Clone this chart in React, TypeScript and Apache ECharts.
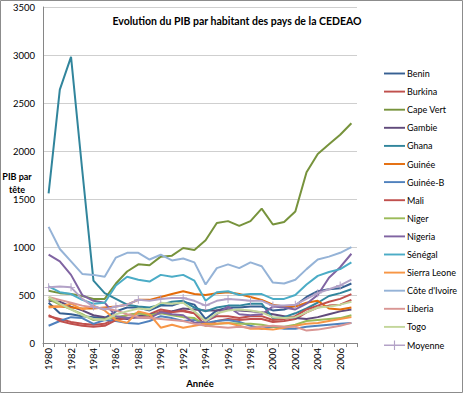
import React, { useEffect, useRef } from "react";
import * as echarts from "echarts";

const years = ["1980","1981","1982","1983","1984","1985","1986","1987","1988","1989","1990","1991","1992","1993","1994","1995","1996","1997","1998","1999","2000","2001","2002","2003","2004","2005","2006","2007"];

const benin = [420,310,300,280,270,260,330,370,370,340,390,390,430,400,250,340,370,370,380,380,340,350,390,480,540,560,570,620];
const burkina = [280,250,220,200,190,200,260,290,310,300,350,330,330,310,180,230,250,240,250,250,220,230,250,320,370,390,400,450];
const capeVert = [545,520,510,490,460,460,620,745,820,810,900,910,990,970,1070,1250,1270,1220,1270,1400,1235,1260,1370,1780,1970,2070,2170,2290];
const gambie = [440,430,380,340,290,270,260,250,280,300,310,330,360,350,340,340,350,340,330,320,300,280,260,250,270,300,330,350];
const ghana = [1560,2640,2980,1800,650,520,460,400,380,370,400,430,440,370,330,370,390,390,410,410,260,270,310,360,420,490,520,560];
const guinee = [380,380,370,360,360,370,380,400,450,450,480,510,540,510,500,520,530,510,480,450,400,380,380,420,440,360,350,370];
const guineeB = [180,230,270,260,200,240,230,210,200,230,280,260,230,240,210,230,240,220,180,150,170,150,150,170,180,190,200,210];
const mali = [290,230,200,180,170,180,240,260,270,270,330,320,340,310,230,280,280,260,280,280,240,250,280,350,390,430,460,510];
const niger = [460,400,350,300,240,250,270,290,310,290,310,290,270,260,180,200,210,200,200,190,170,170,190,230,240,250,260,290];
const nigeria = [920,850,710,500,440,420,280,260,270,260,320,300,290,210,220,300,380,300,290,300,380,370,350,410,500,680,790,930];
const senegal = [590,530,510,450,410,420,600,690,660,640,710,690,710,650,440,530,540,500,510,510,460,460,500,610,700,740,770,840];
const sierraLeone = [370,380,410,350,390,340,240,210,330,300,160,190,160,180,200,200,210,180,150,150,140,160,180,200,210,230,250,270];
const coteIvoire = [1210,980,850,720,710,690,890,940,940,870,920,860,880,840,610,780,820,780,840,800,630,620,660,770,870,900,940,1000];
const liberia = [480,450,420,390,370,360,340,300,270,260,250,240,230,200,180,170,160,170,160,170,180,170,170,130,140,160,180,210];
const togo = [480,410,350,290,250,240,300,330,360,350,420,410,420,330,230,310,340,350,340,320,270,260,270,320,370,380,400,430];
const moyenne = [580,590,580,460,380,350,380,400,450,440,460,470,470,440,390,440,460,450,440,440,390,390,400,460,520,560,600,660];

const seriesNames = ["Benin","Burkina","Cape Vert","Gambie","Ghana","Guinée","Guinée-B","Mali","Niger","Nigeria","Sénégal","Sierra Leone","Côte d'Ivoire","Liberia","Togo","Moyenne"];
const seriesData = [benin,burkina,capeVert,gambie,ghana,guinee,guineeB,mali,niger,nigeria,senegal,sierraLeone,coteIvoire,liberia,togo,moyenne];
const colors = ["#376092","#C0504D","#77933C","#604A7B","#31859C","#E46C0A","#4F81BD","#C0504D","#9BBB59","#8064A2","#4BACC6","#F79646","#95B3D7","#D99694","#C3D69B","#B3A2C7"];

const yTicks = { min: 0, max: 3500, interval: 500 };

const crossSymbol = "path://M0,4.4h10v1.2h-10zM4.4,0h1.2v10h-1.2z";
const lineIcon = "path://M0,4h22v2h-22z";
const lineCrossIcon = "path://M0,4.2h22v1.6h-22zM10.4,0h1.2v10h-1.2z";

export default function App() {
  const ref = useRef<HTMLDivElement>(null);
  useEffect(() => {
    if (!ref.current) return;
    const chart = echarts.init(ref.current, undefined, { renderer: "svg" });
    const font = "Lato, 'Noto Sans', sans-serif";
    chart.setOption({
      animation: false,
      backgroundColor: "#ffffff",
      textStyle: { fontFamily: font },
      grid: { left: 43, right: 106, top: 7, bottom: 37, containLabel: false },
      title: {
        text: "Evolution du PIB par habitant des pays de la CEDEAO",
        left: 232,
        textAlign: "center",
        top: 10,
        textStyle: { fontFamily: font, fontSize: 10.5, fontWeight: "bold", color: "#000" },
      },
      legend: {
        orient: "vertical",
        left: 379,
        top: 64,
        itemWidth: 21,
        itemHeight: 10,
        itemGap: 9.1,
        data: seriesNames.map((n) => ({ name: n, icon: n === "Moyenne" ? lineCrossIcon : lineIcon })),
        textStyle: { fontFamily: font, fontSize: 9, color: "#000", padding: [0, 0, 0, -3] },
      },
      xAxis: {
        type: "category",
        data: years,
        boundaryGap: true,
        axisLine: { lineStyle: { color: "#868686", width: 1 } },
        axisTick: { show: true, interval: 0, length: 4, lineStyle: { color: "#868686" } },
        axisLabel: { interval: 1, rotate: 90, fontSize: 9.5, color: "#000", margin: 5, fontFamily: font },
        name: "Année",
        nameLocation: "middle",
        nameGap: 33,
        nameTextStyle: { fontFamily: font, fontSize: 9.5, fontWeight: "bold", color: "#000" },
      },
      yAxis: {
        type: "value",
        min: yTicks.min,
        max: yTicks.max,
        interval: yTicks.interval,
        axisLine: { show: true, lineStyle: { color: "#868686", width: 1 } },
        axisTick: { show: false },
        axisLabel: { fontSize: 9.5, color: "#000", margin: 8, fontFamily: font, formatter: (v: number) => String(v) },
        splitLine: { show: true, lineStyle: { color: "#CFCFCF", width: 1 } },
      },
      graphic: [
        {
          type: "rect",
          shape: { x: 0.5, y: 0.5, width: 462, height: 392 },
          style: { fill: "none", stroke: "#8C8C8C", lineWidth: 1 },
          silent: true,
        },
        {
          type: "text",
          x: 17,
          y: 170,
          style: {
            text: "PIB par\ntête",
            textAlign: "center",
            fontFamily: font,
            fontSize: 9,
            fontWeight: "bold",
            lineHeight: 13,
            fill: "#000",
          },
        },
      ],
      series: seriesNames.map((name, i) => ({
        name,
        type: "line",
        data: seriesData[i],
        color: colors[i],
        lineStyle: { width: 2, color: colors[i] },
        itemStyle: { color: colors[i] },
        symbol: name === "Moyenne" ? crossSymbol : "none",
        symbolSize: 8,
        showSymbol: name === "Moyenne",
      })),
    });
    return () => chart.dispose();
  }, []);
  return (
    <div
      ref={ref}
      style={{ position: "fixed", left: 0, top: 0, width: 463, height: 393 }}
    />
  );
}
